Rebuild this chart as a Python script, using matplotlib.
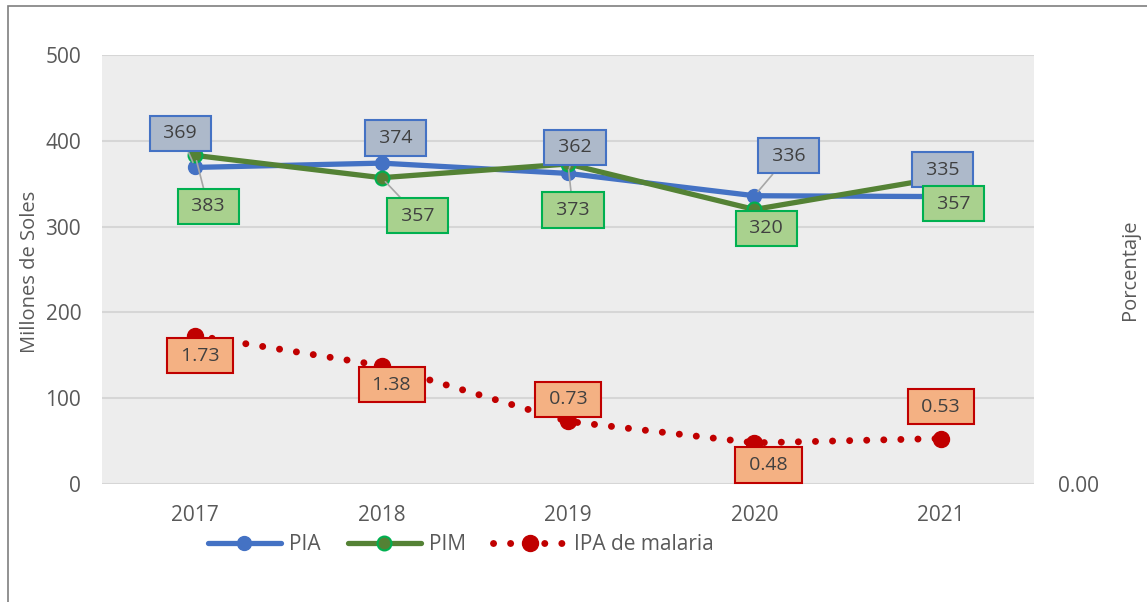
import matplotlib.pyplot as plt
from matplotlib.patches import Rectangle
import numpy as np

years = ["2017", "2018", "2019", "2020", "2021"]
pia = [369, 374, 362, 336, 335]
pim = [383, 357, 373, 320, 357]
ipa = [1.73, 1.38, 0.73, 0.48, 0.53]

# label offsets (pixels) from each point, and whether a leader line is drawn
pia_off = [(-15, 34), (14, 25), (7, 26), (34, 40), (2, 27)]
pim_off = [(13, -51), (36, -38), (5, -46), (12, -19), (13, -26)]
ipa_off = [(5, -20), (10, -19), (0, 22), (14, -22), (0, 32)]
pia_lead = [True, False, True, True, False]
pim_lead = [True, True, True, False, False]

plt.rcParams['font.family'] = ['Open Sans', 'DejaVu Sans']
txt = "#595959"

fig = plt.figure(figsize=(11.47, 6.02), dpi=100)
fig.patches.append(Rectangle((8 / 1147, -0.1), 1.2, (602 - 6) / 602 + 0.1,
                             transform=fig.transFigure, fill=False,
                             edgecolor="#7f7f7f", lw=1.2))
ax = fig.add_axes([0.0889, 0.196, 0.8126, 0.7126])
ax.set_facecolor("#ededed")
x = np.arange(len(years))

ax.set_ylim(0, 500)
ax.set_xlim(-0.5, len(years) - 0.5)
ax.set_yticks(range(0, 501, 100))
ax.grid(axis="y", color="#d6d6d6", lw=1.5)
ax.set_axisbelow(True)
for s in ax.spines.values():
    s.set_visible(False)
ax.set_xticks(x)
ax.set_xticklabels(years)
ax.tick_params(length=0, labelsize=15, colors=txt)
ax.tick_params(axis="x", pad=15)
ax.tick_params(axis="y", pad=15)

l1, = ax.plot(x, pia, color="#4472c4", lw=3.8, marker="o", ms=10,
              solid_capstyle="round", label="PIA", zorder=3)
l2, = ax.plot(x, pim, color="#548235", lw=3.8, marker="o", ms=10,
              markeredgecolor="#00b050", markeredgewidth=1.5,
              solid_capstyle="round", label="PIM", zorder=3)

ax2 = ax.twinx()
ax2.set_ylim(0, 5)
ax2.set_yticks([0])
ax2.set_yticklabels(["0.00"])
for s in ax2.spines.values():
    s.set_visible(False)
ax2.tick_params(length=0, labelsize=15, colors=txt, pad=17)
l3, = ax2.plot(x, ipa, color="#c00000", lw=5, ls=(0, (0.01, 2.45)),
               dash_capstyle="round", marker="o", ms=11.5,
               label="IPA de malaria", zorder=3)


def labels(axis, vals, offs, lead, fmt, fc, ec):
    for i, v in enumerate(vals):
        ap = None
        if lead[i]:
            ap = dict(arrowstyle="-", color="#a6a6a6", lw=1.2,
                      shrinkA=0, shrinkB=4)
        axis.annotate(" " + fmt.format(v) + " ", (x[i], v), xytext=offs[i],
                      textcoords="offset pixels", ha="center", va="center",
                      fontsize=14, color="#404040", zorder=5,
                      bbox=dict(boxstyle="square,pad=0.45", fc=fc, ec=ec, lw=1.5),
                      arrowprops=ap)


labels(ax, pia, pia_off, pia_lead, "{:d}", "#adb9ca", "#4472c4")
labels(ax, pim, pim_off, pim_lead, "{:d}", "#a9d18e", "#00b050")
labels(ax2, ipa, ipa_off, [False] * 5, "{:.2f}", "#f4b183", "#c00000")

fig.text(30 / 1147, 1 - 272 / 602, "Millones de Soles", rotation=90,
         ha="center", va="center", fontsize=14.5, color=txt)
fig.text(1130 / 1147, 1 - 270 / 602, "Porcentaje", rotation=90,
         ha="center", va="center", fontsize=14.5, color=txt)

fig.legend(handles=[l1, l2, l3], loc="center", ncol=3, frameon=False,
           bbox_to_anchor=(0.402, 0.095), fontsize=15, labelcolor=txt,
           handlelength=3.5, columnspacing=1.3, handletextpad=0.4)

fig.savefig("out.png", dpi=100)
